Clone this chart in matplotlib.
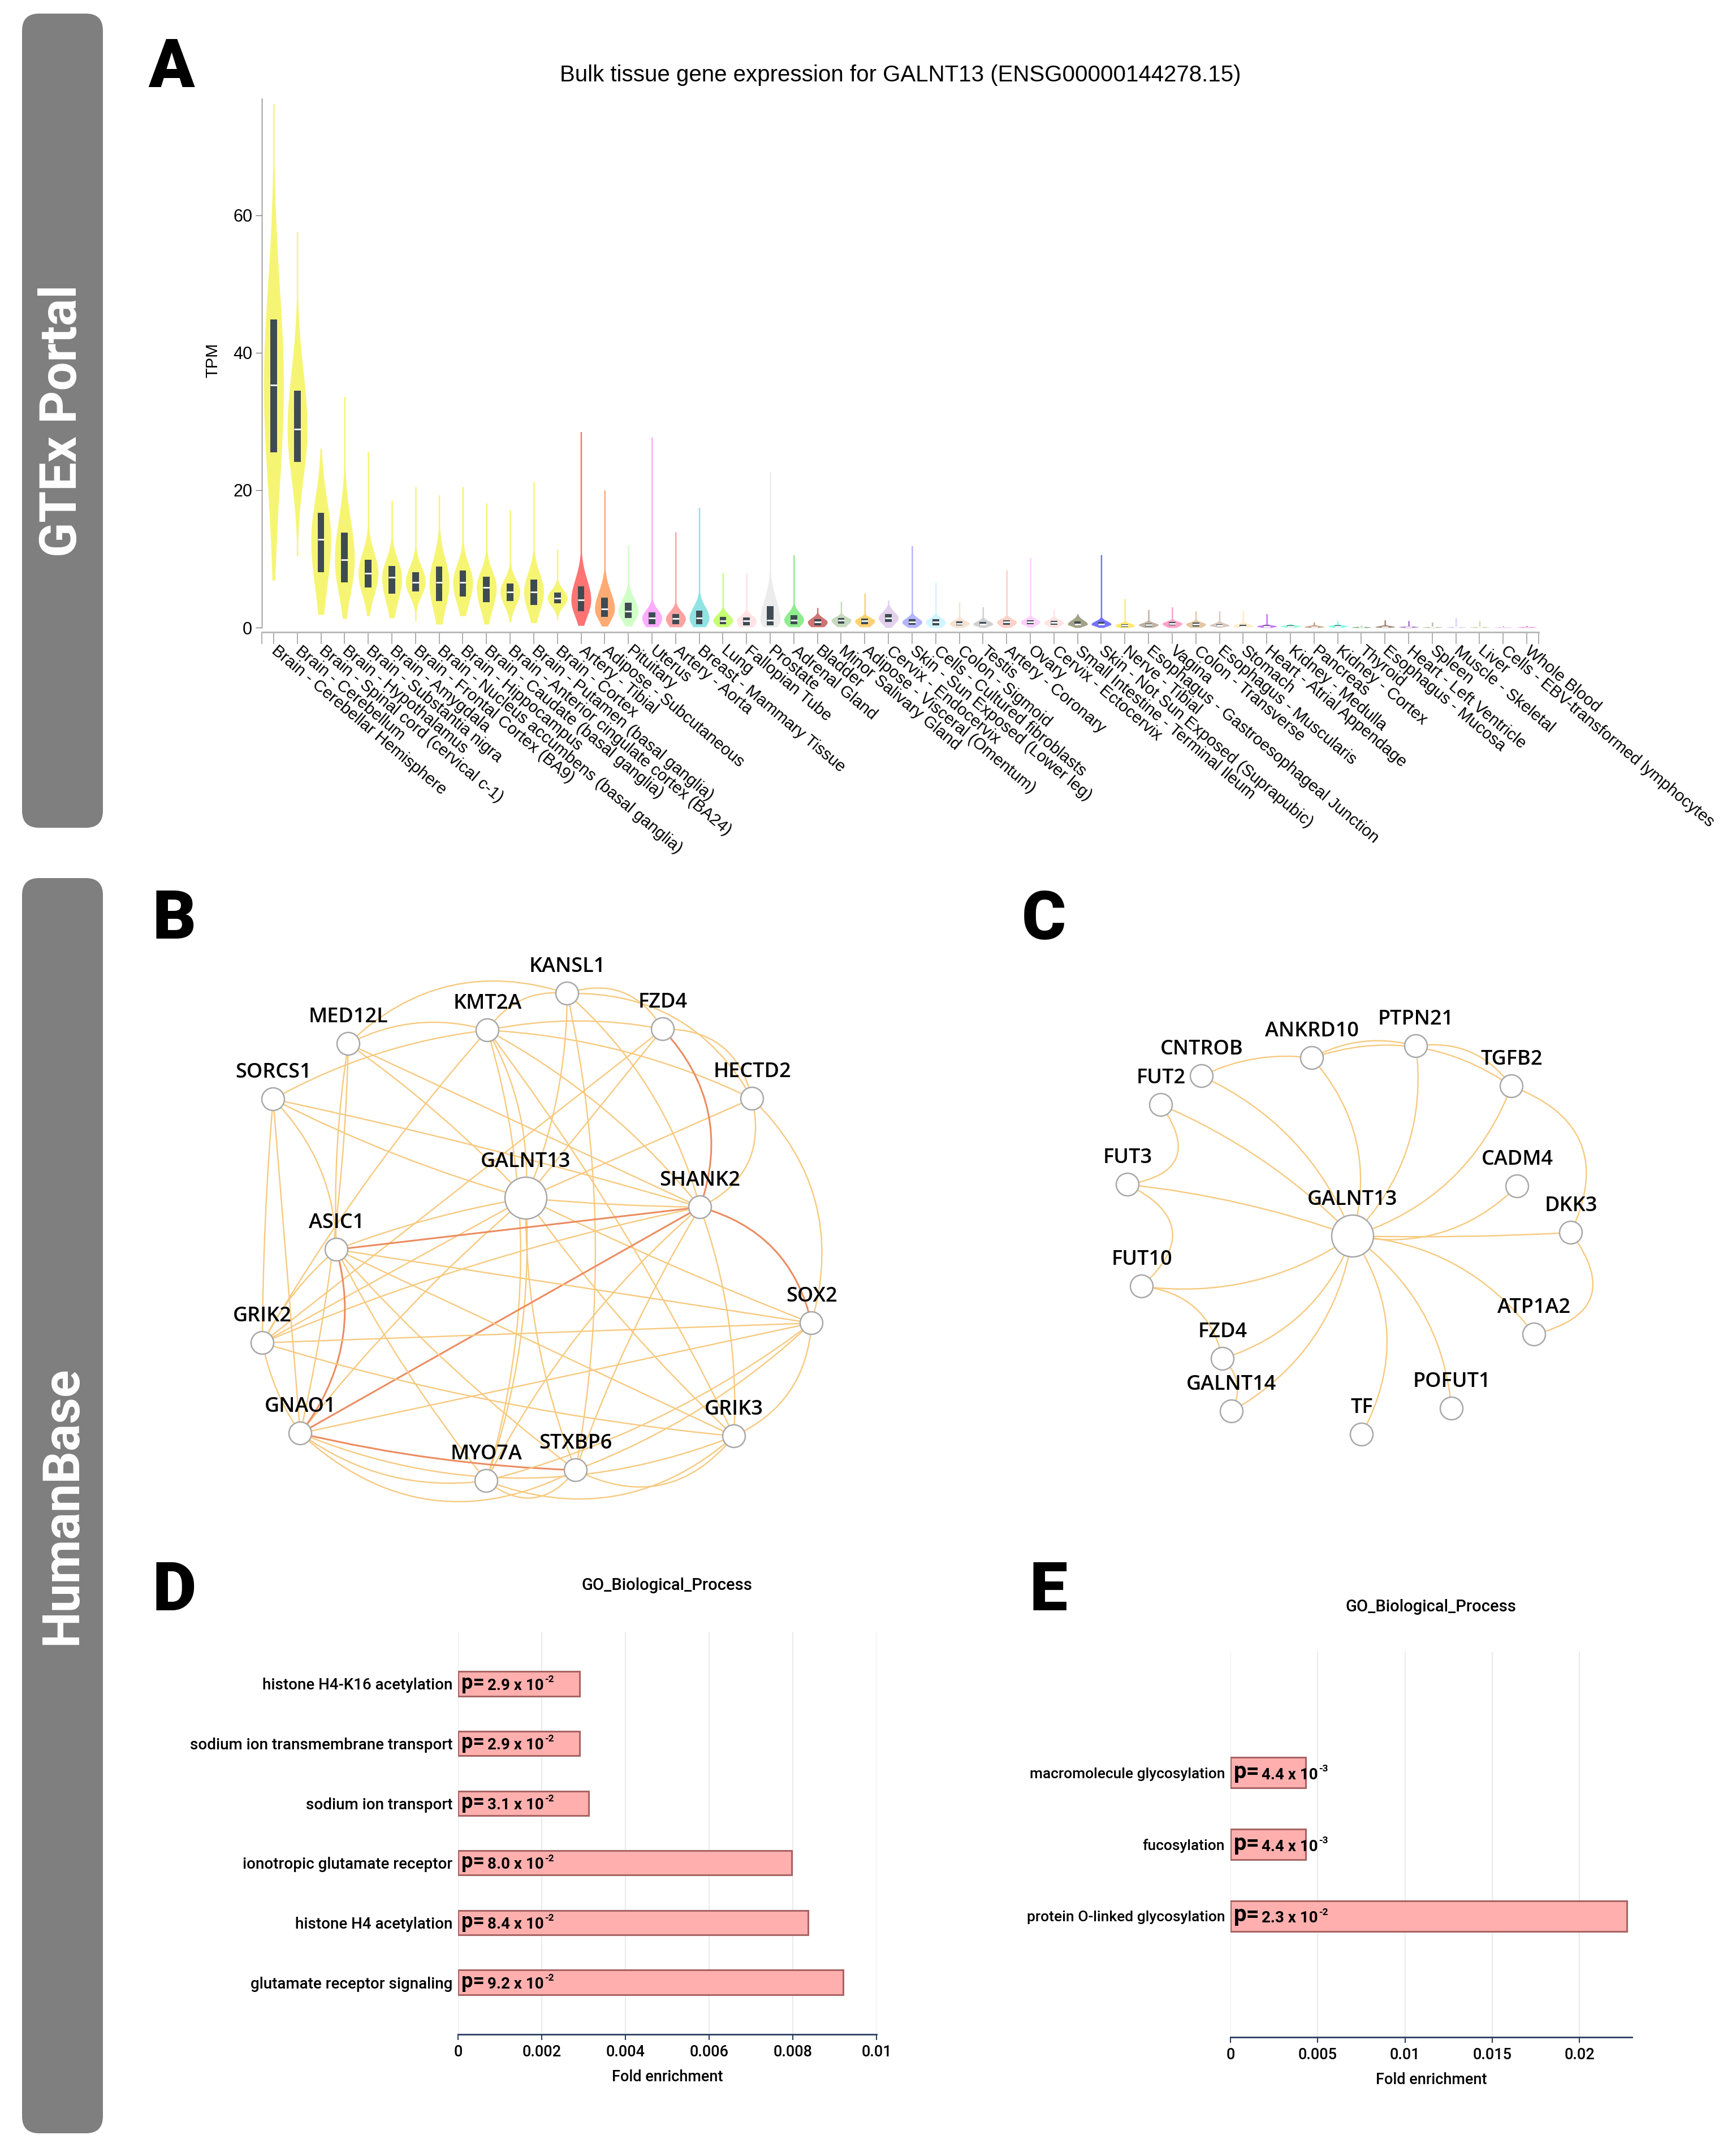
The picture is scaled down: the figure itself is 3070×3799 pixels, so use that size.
"""
GALNT13 overview figure: GTEx violins, HumanBase networks and GO enrichment bars
"""

import numpy as np
import matplotlib.pyplot as plt
from matplotlib.patches import FancyBboxPatch, FancyArrowPatch, Rectangle

plt.rcParams['font.family'] = ['Roboto', 'DejaVu Sans']
NARROW = ['Liberation Sans Narrow', 'Liberation Sans', 'DejaVu Sans']
W, H = 3070, 3799

# ---------------- panel A : GTEx bulk expression ----------------
tissues = [
    'Brain - Cerebellar Hemisphere', 'Brain - Cerebellum', 'Brain - Spinal cord (cervical c-1)',
    'Brain - Hypothalamus', 'Brain - Substantia nigra', 'Brain - Amygdala',
    'Brain - Frontal Cortex (BA9)', 'Brain - Nucleus accumbens (basal ganglia)', 'Brain - Hippocampus',
    'Brain - Caudate (basal ganglia)', 'Brain - Anterior cingulate cortex (BA24)',
    'Brain - Putamen (basal ganglia)', 'Brain - Cortex', 'Artery - Tibial', 'Adipose - Subcutaneous',
    'Pituitary', 'Uterus', 'Artery - Aorta', 'Breast - Mammary Tissue', 'Lung', 'Fallopian Tube',
    'Prostate', 'Adrenal Gland', 'Bladder', 'Minor Salivary Gland', 'Adipose - Visceral (Omentum)',
    'Cervix - Endocervix', 'Skin - Sun Exposed (Lower leg)', 'Cells - Cultured fibroblasts',
    'Colon - Sigmoid', 'Testis', 'Artery - Coronary', 'Ovary', 'Cervix - Ectocervix',
    'Small Intestine - Terminal Ileum', 'Skin - Not Sun Exposed (Suprapubic)', 'Nerve - Tibial',
    'Esophagus - Gastroesophageal Junction', 'Vagina', 'Colon - Transverse', 'Esophagus - Muscularis',
    'Stomach', 'Heart - Atrial Appendage', 'Kidney - Medulla', 'Pancreas', 'Kidney - Cortex',
    'Thyroid', 'Esophagus - Mucosa', 'Heart - Left Ventricle', 'Spleen', 'Muscle - Skeletal',
    'Liver', 'Cells - EBV-transformed lymphocytes', 'Whole Blood']
tissue_colors = (['#EEEE00'] * 13 + [
    '#FF0000', '#FF6600', '#AAFF99', '#FF66FF', '#FF5555', '#33CCCC', '#99FF00', '#FFCCCC',
    '#DDDDDD', '#33DD33', '#AA0000', '#99BB88', '#FFAA00', '#CCAADD', '#7777FF', '#AAEEFF',
    '#EECCAA', '#AAAAAA', '#FFAA99', '#FFAAFF', '#FFCCCC', '#555522', '#0000FF', '#FFD700',
    '#8B7355', '#FF5599', '#CC9955', '#BB9988', '#FFDD99', '#9900FF', '#33FFC2', '#995522',
    '#22FFDD', '#006600', '#552200', '#660099', '#778855', '#AAAAFF', '#AABB66', '#CC66FF',
    '#FF00BB'])
tpm_min = [6.9, 10.4, 1.9, 1.3, 1.7, 1.4, 1.0, 0.5, 1.7, 0.5, 0.8, 0.7, 1.1, 0.3, 0.2, 0.2, 0.1,
           0.1, 0.1, 0.1, 0.1, 0.1, 0.1, 0.1, 0.1, 0.1, 0, 0, 0, 0, 0, 0, 0, 0, 0, 0, 0, 0, 0,
           0, 0, 0, 0, 0, 0, 0, 0, 0, 0, 0, 0, 0, 0, 0]
tpm_q1 = [25.5, 24.1, 8.1, 6.6, 5.8, 4.9, 5.3, 3.9, 4.5, 3.7, 3.9, 3.3, 3.5, 2.4, 1.6, 1.4, 0.5,
          0.5, 0.5, 0.5, 0.3, 0.3, 0.5, 0.3, 0.6, 0.5, 0.8, 0.4, 0.3, 0.3, 0.3, 0.4, 0.5, 0.4,
          0.3, 0.3, 0.1, 0.2, 0.3, 0.2, 0.2, 0.1, 0.1, 0.1, 0.05, 0.1, 0.02, 0.05, 0.05, 0.03,
          0.02, 0.02, 0.01, 0.02]
tpm_med = [35.3, 28.9, 12.8, 9.9, 7.9, 7.3, 6.6, 6.6, 6.6, 5.8, 5.2, 5.2, 4.3, 4.0, 2.7, 2.4, 1.4,
           1.3, 1.4, 1.0, 1.0, 1.1, 1.1, 0.8, 1.1, 1.0, 1.4, 0.8, 0.8, 0.6, 0.5, 0.8, 0.8, 0.7,
           0.5, 0.5, 0.3, 0.4, 0.6, 0.5, 0.3, 0.2, 0.2, 0.2, 0.1, 0.2, 0.05, 0.1, 0.1, 0.06,
           0.05, 0.05, 0.03, 0.04]
tpm_q3 = [44.8, 34.5, 16.7, 13.8, 9.9, 9.0, 8.1, 8.9, 8.3, 7.4, 6.4, 7.0, 5.1, 6.0, 4.4, 3.6, 2.2,
          2.0, 2.5, 1.6, 1.5, 3.1, 1.8, 1.2, 1.4, 1.3, 2.0, 1.2, 1.2, 0.9, 0.8, 1.1, 1.1, 1.0,
          0.9, 0.8, 0.5, 0.6, 0.8, 0.7, 0.5, 0.4, 0.3, 0.3, 0.2, 0.3, 0.1, 0.2, 0.15, 0.1, 0.1,
          0.1, 0.05, 0.08]
tpm_max = [76.2, 57.6, 26.1, 33.6, 25.6, 18.5, 20.5, 19.3, 20.5, 18.1, 17.1, 21.2, 11.4, 28.5,
           20.0, 12.0, 27.7, 13.9, 17.5, 8.0, 8.0, 22.6, 10.6, 2.9, 3.8, 5.0, 4.0, 11.9, 6.6, 3.7,
           3.0, 8.4, 10.2, 2.7, 2.0, 10.6, 4.2, 2.6, 3.0, 2.4, 2.4, 2.4, 2.0, 0.6, 0.8, 1.0, 0.3,
           1.1, 1.0, 0.8, 1.4, 1.0, 0.3, 0.3]

# ---------------- panel B : HumanBase network ----------------
b_genes = ['KANSL1', 'KMT2A', 'FZD4', 'MED12L', 'HECTD2', 'SORCS1', 'GALNT13', 'SHANK2',
           'ASIC1', 'SOX2', 'GRIK2', 'GNAO1', 'GRIK3', 'STXBP6', 'MYO7A']
b_x = [1003, 862, 1172, 616, 1330, 483, 930, 1238, 595, 1435, 464, 531, 1298, 1018, 860]
b_y = [1757, 1822, 1820, 1846, 1943, 1944, 2119, 2135, 2210, 2340, 2375, 2535, 2540, 2600, 2619]
# (gene, gene, strong link, bend)
b_edges = [
    ('GALNT13', 'KANSL1', 0, 0.1), ('GALNT13', 'KMT2A', 0, 0.15), ('GALNT13', 'FZD4', 0, 0.0),
    ('GALNT13', 'MED12L', 0, 0.05), ('GALNT13', 'HECTD2', 0, 0.0), ('GALNT13', 'SORCS1', 0, -0.05),
    ('GALNT13', 'SHANK2', 0, 0.02), ('GALNT13', 'ASIC1', 0, 0.05), ('GALNT13', 'SOX2', 0, 0.02),
    ('GALNT13', 'GRIK2', 0, 0.0), ('GALNT13', 'GNAO1', 0, 0.05), ('GALNT13', 'GRIK3', 0, 0.05),
    ('GALNT13', 'STXBP6', 0, 0.1), ('GALNT13', 'MYO7A', 0, -0.1),
    ('KANSL1', 'KMT2A', 0, 0.3), ('KANSL1', 'FZD4', 0, -0.4), ('KANSL1', 'MED12L', 0, 0.3),
    ('KANSL1', 'HECTD2', 0, -0.3), ('KANSL1', 'SHANK2', 0, -0.15), ('KANSL1', 'STXBP6', 0, -0.1),
    ('KMT2A', 'FZD4', 0, -0.1), ('KMT2A', 'HECTD2', 0, -0.1), ('KMT2A', 'SHANK2', 0, -0.1),
    ('KMT2A', 'SORCS1', 0, 0.1), ('KMT2A', 'MED12L', 0, 0.2), ('KMT2A', 'GRIK3', 0, -0.05),
    ('KMT2A', 'GRIK2', 0, 0.05), ('KMT2A', 'MYO7A', 0, -0.15),
    ('MED12L', 'ASIC1', 0, 0.05), ('MED12L', 'GNAO1', 0, -0.05), ('MED12L', 'SHANK2', 0, 0.0),
    ('SORCS1', 'GRIK2', 0, 0.02), ('SORCS1', 'GNAO1', 0, 0.0), ('SORCS1', 'ASIC1', 0, -0.2),
    ('SORCS1', 'SHANK2', 0, -0.02),
    ('FZD4', 'HECTD2', 0, -0.4), ('FZD4', 'SHANK2', 1, -0.3), ('FZD4', 'GRIK2', 0, 0.0),
    ('HECTD2', 'SHANK2', 0, -0.4), ('HECTD2', 'SOX2', 0, -0.3),
    ('SHANK2', 'SOX2', 1, -0.3), ('SHANK2', 'GRIK3', 0, -0.1), ('SHANK2', 'STXBP6', 0, 0.05),
    ('SHANK2', 'MYO7A', 0, 0.1), ('SHANK2', 'GNAO1', 1, 0.0), ('SHANK2', 'ASIC1', 1, 0.0),
    ('SHANK2', 'GRIK2', 0, 0.05),
    ('ASIC1', 'GNAO1', 1, -0.25), ('ASIC1', 'GRIK2', 0, 0.1), ('ASIC1', 'SOX2', 0, 0.0),
    ('ASIC1', 'MYO7A', 0, 0.05), ('ASIC1', 'STXBP6', 0, 0.05), ('ASIC1', 'GRIK3', 0, 0.0),
    ('GRIK2', 'SOX2', 0, 0.0), ('GRIK2', 'GNAO1', 0, 0.1), ('GRIK2', 'GRIK3', 0, 0.05),
    ('GNAO1', 'SOX2', 0, 0.0), ('GNAO1', 'MYO7A', 0, 0.2), ('GNAO1', 'STXBP6', 1, 0.05),
    ('GNAO1', 'GRIK3', 0, 0.2),
    ('SOX2', 'GRIK3', 0, -0.3), ('SOX2', 'STXBP6', 0, -0.1), ('SOX2', 'MYO7A', 0, -0.1),
    ('GRIK3', 'MYO7A', 0, -0.3), ('GRIK3', 'STXBP6', 0, -0.4), ('MYO7A', 'STXBP6', 0, 0.5),
    ('GNAO1', 'STXBP6', 0, 0.35)]

# ---------------- panel C : HumanBase network ----------------
c_genes = ['PTPN21', 'ANKRD10', 'CNTROB', 'TGFB2', 'FUT2', 'FUT3', 'CADM4', 'GALNT13', 'DKK3',
           'FUT10', 'ATP1A2', 'FZD4', 'POFUT1', 'GALNT14', 'TF']
c_x = [2504, 2320, 2125, 2673, 2053, 1994, 2683, 2392, 2778, 2019, 2713, 2162, 2567, 2178, 2408]
c_y = [1850, 1871, 1903, 1921, 1954, 2095, 2098, 2186, 2180, 2275, 2360, 2403, 2491, 2496, 2537]
c_edges = [
    ('GALNT13', 'CNTROB', 0, 0.2), ('GALNT13', 'FUT2', 0, 0.1), ('GALNT13', 'FUT3', 0, 0.06),
    ('GALNT13', 'FUT10', 0, -0.19), ('GALNT13', 'FZD4', 0, -0.24), ('GALNT13', 'GALNT14', 0, -0.24),
    ('GALNT13', 'TF', 0, -0.3), ('GALNT13', 'POFUT1', 0, -0.23), ('GALNT13', 'ATP1A2', 0, -0.23),
    ('GALNT13', 'DKK3', 0, 0.02), ('GALNT13', 'CADM4', 0, 0.26), ('GALNT13', 'TGFB2', 0, 0.24),
    ('GALNT13', 'PTPN21', 0, 0.24), ('GALNT13', 'ANKRD10', 0, 0.27),
    ('CNTROB', 'ANKRD10', 0, -0.15), ('ANKRD10', 'PTPN21', 0, -0.2), ('ANKRD10', 'TGFB2', 0, -0.25),
    ('PTPN21', 'TGFB2', 0, -0.3), ('FUT2', 'FUT3', 0, -0.8), ('FUT3', 'FUT10', 0, -0.74),
    ('FUT10', 'FZD4', 0, -0.36), ('FZD4', 'GALNT14', 0, -0.38), ('TGFB2', 'DKK3', 0, -0.54),
    ('DKK3', 'ATP1A2', 0, -0.75)]

# ---------------- panels D / E : GO enrichment ----------------
d_terms = ['histone H4-K16 acetylation', 'sodium ion transmembrane transport',
           'sodium ion transport', 'ionotropic glutamate receptor', 'histone H4 acetylation',
           'glutamate receptor signaling']
d_fold = [0.0029, 0.0029, 0.00312, 0.00797, 0.00836, 0.0092]
d_p = ['2.9 x 10', '2.9 x 10', '3.1 x 10', '8.0 x 10', '8.4 x 10', '9.2 x 10']
d_p_exp = ['-2', '-2', '-2', '-2', '-2', '-2']

e_terms = ['macromolecule glycosylation', 'fucosylation', 'protein O-linked glycosylation']
e_fold = [0.0043, 0.0043, 0.0227]
e_p = ['4.4 x 10', '4.4 x 10', '2.3 x 10']
e_p_exp = ['-3', '-3', '-2']


fig = plt.figure(figsize=(W / 100, H / 100), dpi=100)


def px_axes(x0, y0, x1, y1, **kw):
    return fig.add_axes([x0 / W, 1 - y1 / H, (x1 - x0) / W, (y1 - y0) / H], **kw)


# background layer in pixel units for sidebars, letters and titles
bg = px_axes(0, 0, W, H, zorder=-5)
bg.set_xlim(0, W)
bg.set_ylim(H, 0)
bg.axis('off')

for (y0, y1, name) in [(24, 1464, 'GTEx Portal'), (1553, 3773, 'HumanBase')]:
    bg.add_patch(FancyBboxPatch((39, y0), 143, y1 - y0, boxstyle='round,pad=0,rounding_size=30',
                                facecolor='#7f7f7f', edgecolor='none'))
    bg.text(110, (y0 + y1) / 2, name, rotation=90, color='white', fontsize=65,
            fontweight='bold', ha='center', va='center')

for letter, x, y in [('A', 303, 121), ('B', 308, 1628), ('C', 1846, 1628),
                     ('D', 308, 2816), ('E', 1854, 2816)]:
    bg.text(x, y, letter, fontsize=86, fontweight='black', ha='center', va='center')

bg.text(1592, 133, 'Bulk tissue gene expression for GALNT13 (ENSG00000144278.15)',
        fontsize=29, family=NARROW, ha='center', va='center')
bg.text(376, 637, 'TPM', rotation=90, fontsize=21, family=NARROW, ha='center', va='center')


# ---- A: violins ----
def violin_outline(lo, q1, med, q3, hi):
    ys = np.linspace(lo, hi, 300)
    s = np.where(ys < med, max(med - q1, 1e-3) / 0.674, max(q3 - med, 1e-3) / 0.674)
    w = np.exp(-0.5 * ((ys - med) / s) ** 2)
    return ys, np.maximum(0.42 * w, 0.03)


axA = px_axes(463, 174, 2721, 1110)
for i in range(len(tissues)):
    ys, w = violin_outline(tpm_min[i], tpm_q1[i], tpm_med[i], tpm_q3[i], tpm_max[i])
    axA.fill_betweenx(ys, i - w, i + w, color=tissue_colors[i], alpha=0.55, lw=0)
    axA.add_patch(Rectangle((i - 0.14, tpm_q1[i]), 0.28, tpm_q3[i] - tpm_q1[i],
                            color='#3e4b52', lw=0, zorder=3))
    axA.plot([i - 0.14, i + 0.14], [tpm_med[i], tpm_med[i]], color='white', lw=2,
             solid_capstyle='butt', zorder=4)

axA.set_xlim(-0.5, len(tissues) - 0.5)
axA.set_ylim(0, 77)
axA.spines[['top', 'right']].set_visible(False)
axA.spines['left'].set_color('#666666')
axA.spines['bottom'].set_position(('outward', 6))
axA.spines['bottom'].set_color('#b5b5b5')
axA.spines['bottom'].set_linewidth(2)
axA.set_yticks([0, 20, 40, 60])
axA.tick_params(axis='y', length=8, color='#666666', labelsize=22, pad=4)
for t in axA.get_yticklabels():
    t.set_family(NARROW)
axA.set_xticks(range(len(tissues)))
axA.set_xticks([-0.5, len(tissues) - 0.5], minor=True)
axA.set_xticklabels(tissues, rotation=-40, ha='left', va='center', rotation_mode='anchor',
                    fontsize=21, family=NARROW)
axA.tick_params(axis='x', which='both', length=15, color='#a0a0a0', width=1.2, pad=6)


# ---- B / C: networks ----
def draw_network(ax, genes, xs, ys, edges):
    pos = {g: (x, y) for g, x, y in zip(genes, xs, ys)}
    for a, b, strong, bend in edges:
        ax.add_patch(FancyArrowPatch(pos[a], pos[b], arrowstyle='-', shrinkA=0, shrinkB=0,
                                     connectionstyle=f'arc3,rad={bend}',
                                     color='#ec8c60' if strong else '#f7c97e',
                                     lw=2.2 if strong else 1.7, zorder=1))
    radius = [37 if g == 'GALNT13' else 20 for g in genes]
    ax.scatter(xs, ys, s=[(1.44 * r) ** 2 for r in radius], facecolor='white',
               edgecolor='#a8a8a8', linewidth=1.8, zorder=3)
    for g, x, y, r in zip(genes, xs, ys, radius):
        ax.text(x, y - r - 9, g, ha='center', va='bottom', fontsize=26, fontweight=600,
                family=['Open Sans', 'DejaVu Sans'], zorder=4)


axB = px_axes(380, 1680, 1560, 2660)
axB.set_xlim(380, 1560)
axB.set_ylim(2660, 1680)
axB.axis('off')
draw_network(axB, b_genes, b_x, b_y, b_edges)

axC = px_axes(1850, 1750, 2950, 2650)
axC.set_xlim(1850, 2950)
axC.set_ylim(2650, 1750)
axC.axis('off')
draw_network(axC, c_genes, c_x, c_y, c_edges)


# ---- D / E: enrichment bars ----
def enrichment(ax, terms, fold, ptxt, pexp, xmax, ticks, ticklabels, bar_h, ylim,
               label_size, p_size, num_size, num_gap):
    ypos = np.arange(len(terms))
    ax.barh(ypos, fold, height=bar_h, color='#ffb0ae', edgecolor='#a86464', linewidth=2.2,
            zorder=2)
    ax.set_xlim(0, xmax)
    ax.set_ylim(*ylim)
    ax.set_xticks(ticks)
    ax.set_xticklabels(ticklabels)
    ax.set_yticks(ypos)
    ax.set_yticklabels(terms, fontsize=label_size, fontweight=500)
    ax.tick_params(axis='y', length=0, pad=7)
    ax.tick_params(axis='x', length=7, width=1.5, color='#2a3f5f', labelsize=19.5, pad=6)
    for t in ax.get_xticklabels():
        t.set_fontweight(500)
    ax.set_axisbelow(True)
    ax.xaxis.grid(True, color='#ebebeb', lw=1.5)
    ax.spines[['top', 'right', 'left']].set_visible(False)
    ax.spines['bottom'].set_color('#2a3f5f')
    ax.spines['bottom'].set_linewidth(2)
    ax.set_xlabel('Fold enrichment', fontsize=19.5, fontweight=500, labelpad=12)
    for y, txt, ex in zip(ypos, ptxt, pexp):
        t1 = ax.annotate('p=', xy=(0, y), xytext=(4, 1), textcoords='offset points',
                         ha='left', va='center', fontsize=p_size, fontweight='bold', zorder=5)
        t2 = ax.annotate(txt, xy=(1, 0), xycoords=t1, xytext=(num_gap, 0),
                         textcoords='offset points', ha='left', va='bottom',
                         fontsize=num_size, fontweight='bold', zorder=5)
        ax.annotate(ex, xy=(1, 0.62), xycoords=t2, xytext=(1, 0), textcoords='offset points',
                    ha='left', va='bottom', fontsize=num_size * 0.62, fontweight='bold', zorder=5)


axD = px_axes(810, 2886, 1550, 3598)
enrichment(axD, d_terms, d_fold, d_p, d_p_exp, 0.01,
           [0, 0.002, 0.004, 0.006, 0.008, 0.01], ['0', '0.002', '0.004', '0.006', '0.008', '0.01'],
           0.41, (5.87, -0.87), 20, 26, 20, 4)
bg.text(1179, 2804, 'GO_Biological_Process', fontsize=21, fontweight=500,
        ha='center', va='center')

axE = px_axes(2176, 2921, 2886, 3603)
enrichment(axE, e_terms, e_fold, e_p, e_p_exp, 0.023,
           [0, 0.005, 0.01, 0.015, 0.02], ['0', '0.005', '0.01', '0.015', '0.02'],
           0.43, (3.69, -1.69), 19, 29, 20, 3)
bg.text(2530, 2842, 'GO_Biological_Process', fontsize=21, fontweight=500,
        ha='center', va='center')

fig.savefig('out.png', dpi=100)
